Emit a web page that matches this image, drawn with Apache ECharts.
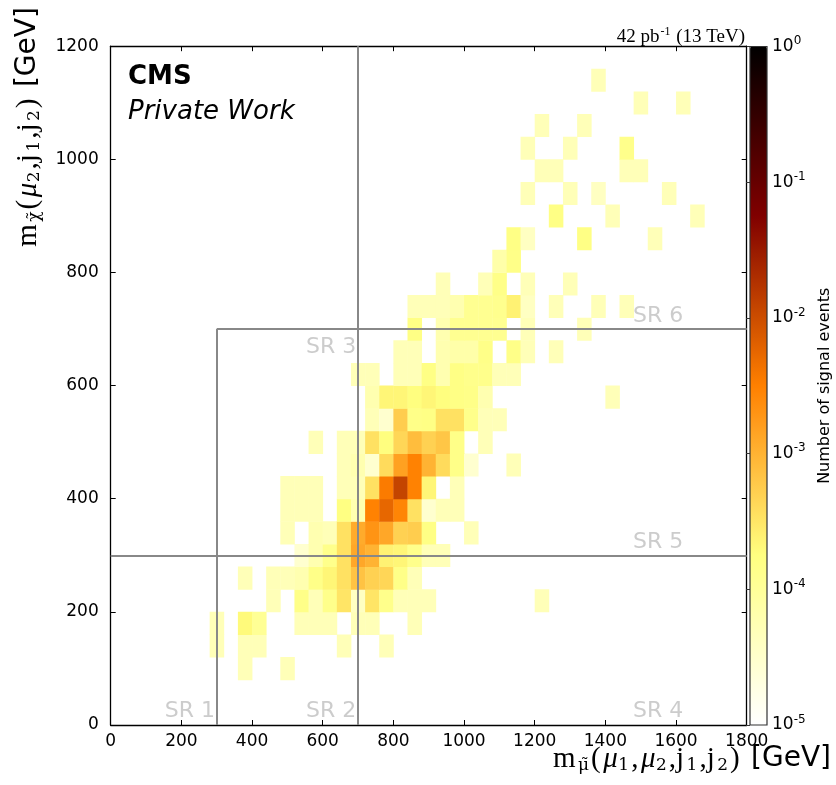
<!DOCTYPE html>
<html>
<head>
<meta charset="utf-8">
<script src="https://cdn.jsdelivr.net/npm/echarts@6/dist/echarts.min.js"></script>
<style>html,body{margin:0;padding:0;background:#fff}#c{width:836px;height:785px}</style>
</head>
<body>
<div id="c"></div>
<script>
// ---------------- DATA ----------------
const binWidthMu = 40;   // GeV, x bin width
const binWidthChi = 40;  // GeV, y bin width
// lower edge (GeV) of each occupied y-bin row
const chiLow = [80,120,160,200,240,280,320,360,400,440,480,520,560,600,640,680,720,760,800,840,880,920,960,1000,1040,1080,1120];
// lower edges (GeV) of occupied x-bins in each row
const muInRow = [
  [360,480],
  [280,360,400,640,760],
  [280,360,400,520,560,600,680,720,840],
  [440,520,560,600,640,680,720,760,800,840,880,1200],
  [360,440,480,520,560,600,640,680,720,760,800,840],
  [520,560,600,640,680,720,760,800,840,880,920],
  [480,560,600,640,680,720,760,800,840,880,1000],
  [480,520,560,640,680,720,760,800,840,880,920,960],
  [480,520,560,640,680,720,760,800,840,880,960],
  [640,680,720,760,800,840,880,920,960,1000,1120],
  [560,640,680,720,760,800,840,880,920,960,1040],
  [720,760,800,840,880,920,960,1000,1040,1080],
  [720,760,800,840,880,920,960,1000,1040,1400],
  [680,720,800,840,880,920,960,1000,1040,1080,1120],
  [800,840,920,960,1000,1040,1120,1160,1240],
  [840,920,960,1000,1040,1080,1160,1320],
  [840,880,920,960,1000,1040,1080,1120,1160,1240,1360,1440],
  [920,1040,1080,1160,1280],
  [1080,1120],
  [1120,1160,1320,1520],
  [1240,1400,1640],
  [1160,1280,1360,1560],
  [1200,1240,1440,1480],
  [1160,1280,1440],
  [1200,1320],
  [1480,1600],
  [1360]
];
// number of signal events in each occupied bin
const eventsInRow = [
  [5e-5,5e-5],
  [5e-5,5e-5,5e-5,5e-5,5e-5],
  [5e-5,2e-4,1.1e-4,5e-5,5e-5,5e-5,5e-5,5e-5,5e-5],
  [5e-5,1.5e-4,5e-5,1.4e-4,3.2e-4,4e-5,3.2e-4,1.4e-4,5e-5,5e-5,5e-5,5e-5],
  [5e-5,5e-5,5e-5,6e-5,1.5e-4,2.2e-4,3.5e-4,7e-4,5e-4,4.5e-4,1.5e-4,5e-5],
  [3e-5,6e-5,1.4e-4,3.5e-4,1.3e-3,1e-3,2.4e-4,2.2e-4,1.4e-4,5e-5,5e-5],
  [5e-5,6e-5,5e-5,3.5e-4,1.2e-3,2e-3,1.3e-3,5e-4,5.5e-4,1.6e-4,5e-5],
  [5e-5,5e-5,5e-5,1.7e-4,6e-5,3e-3,5.5e-3,2.8e-3,3.5e-4,3e-5,5e-5,5e-5],
  [5e-5,5e-5,5e-5,5e-5,5e-5,3.5e-4,3.5e-3,1.2e-2,3e-3,2.2e-4,5e-5],
  [5e-5,6e-5,3e-5,4e-4,1.5e-3,3e-3,1e-3,4e-4,1.5e-4,3e-5,5e-5],
  [5e-5,5e-5,5e-5,3.5e-4,1.8e-4,4.5e-4,8e-4,5e-4,6.5e-4,1.5e-4,5e-5],
  [5e-5,3e-5,5.5e-4,1.5e-4,1.6e-4,3.5e-4,3.5e-4,1.4e-4,5e-5,5e-5],
  [6e-5,2.2e-4,2.2e-4,1.8e-4,2.2e-4,1.8e-4,1.6e-4,1.5e-4,6e-5,5e-5],
  [5e-5,5e-5,5e-5,5e-5,1.6e-4,6e-5,1.6e-4,1.4e-4,1.4e-4,5e-5,5e-5],
  [5e-5,5e-5,6e-5,7e-5,7e-5,1.5e-4,1.5e-4,5e-5,5e-5],
  [1.6e-4,6e-5,1.2e-4,1.2e-4,1.2e-4,1.2e-4,5e-5,5e-5],
  [5e-5,5e-5,5e-5,6e-5,1.2e-4,1.2e-4,1.3e-4,2.4e-4,4e-5,5e-5,5e-5,5e-5],
  [5e-5,5e-5,1.5e-4,5e-5,5e-5],
  [7e-5,1.5e-4],
  [1.6e-4,4e-5,1.6e-4,5e-5],
  [1.6e-4,5e-5,5e-5],
  [5e-5,5e-5,4e-5,5e-5],
  [5e-5,5e-5,5e-5,5e-5],
  [5e-5,5e-5,1.4e-4],
  [5e-5,5e-5],
  [5e-5,5e-5],
  [5e-5]
];
const xTickStep = 200, xMax = 1800;
const yTickStep = 200, yMax = 1200;
const colorExpMin = -5, colorExpMax = 0;
// signal-region boundaries (GeV)
const srBoundaries = [
  [[300,0],[300,700]],
  [[700,0],[700,1200]],
  [[0,300],[1800,300]],
  [[300,700],[1800,700]]
];
const srNames = ['SR 1','SR 2','SR 3','SR 4','SR 5','SR 6'];

// ---------------- CHART ----------------
const FONT = 'DejaVu Sans';
const cells = [];
chiLow.forEach((chi, r) => {
  muInRow[r].forEach((mu, k) => cells.push([mu, chi, Math.log10(eventsInRow[r][k])]));
});

// label anchors (data coords) and alignment
const srAnchor = [
  {v:[295,24], a:'right'}, {v:[695,24], a:'right'}, {v:[695,668], a:'right'},
  {v:[1478,24], a:'left'}, {v:[1478,323], a:'left'}, {v:[1478,722], a:'left'}
];

const plainNum = v => String(v);
const frameAxis = (pos, labels, extra) => Object.assign({
  type:'value', position:pos, gridIndex:0,
  axisLine:{show:true, onZero:false, lineStyle:{color:'#000', width:1.3}},
  axisTick:{show:true, inside:true, length:5, lineStyle:{color:'#000', width:1}},
  axisLabel:{show:labels, formatter:plainNum, fontFamily:FONT, fontSize:17, color:'#000', showMinLabel:true, showMaxLabel:true},
  splitLine:{show:false}
}, extra);

const serifRich = {
  m:{fontFamily:'Liberation Serif', fontSize:29, fill:'#000', color:'#000', padding:[0,2.5,0,0]},
  mu:{fontFamily:'Liberation Serif', fontStyle:'italic', fontSize:29, fill:'#000', color:'#000', padding:[0,0.5,0,0]},
  sub:{fontFamily:'DejaVu Serif', fontSize:17, fill:'#000', color:'#000', padding:[14,2,0,0]},
  g:{fontFamily:FONT, fontSize:28, fill:'#000', color:'#000'}
};

const option = {
  animation:false,
  backgroundColor:'#ffffff',
  grid:[
    {left:110.7, top:46.2, width:636, height:678.8, show:false},
    {left:750, top:46.5, width:17, height:678.5, show:true, borderColor:'#333', borderWidth:1.2, backgroundColor:'transparent', z:10}
  ],
  xAxis:[
    frameAxis('bottom', true, {min:0, max:xMax, interval:xTickStep, axisLabel:{show:true, formatter:plainNum, fontFamily:FONT, fontSize:17, color:'#000', margin:8, showMinLabel:true, showMaxLabel:true}}),
    frameAxis('top', false, {min:0, max:xMax, interval:xTickStep}),
    {gridIndex:1, type:'value', min:0, max:1, show:false}
  ],
  yAxis:[
    frameAxis('left', true, {min:0, max:yMax, interval:yTickStep, axisLabel:{show:true, formatter:plainNum, fontFamily:FONT, fontSize:17, color:'#000', margin:12, showMinLabel:true, showMaxLabel:true}}),
    frameAxis('right', false, {min:0, max:yMax, interval:yTickStep}),
    {gridIndex:1, type:'value', min:colorExpMin, max:colorExpMax, interval:1, position:'right',
     axisLine:{show:false}, splitLine:{show:false},
     axisTick:{show:true, inside:true, length:4, lineStyle:{color:'#333'}},
     axisLabel:{margin:5, formatter:v => '{b|10}{s|' + v + '}',
       rich:{b:{fontFamily:FONT, fontSize:17, color:'#000'}, s:{fontFamily:FONT, fontSize:12, color:'#000', padding:[0,0,11,0]}}},
     name:'Number of signal events', nameLocation:'middle', nameRotate:90, nameGap:50,
     nameTextStyle:{fontFamily:FONT, fontSize:16, color:'#000'}}
  ],
  visualMap:{
    type:'continuous', min:colorExpMin, max:colorExpMax, dimension:2, seriesIndex:0,
    orient:'vertical', left:750, top:46.5, itemWidth:17, itemHeight:678.5, padding:0,
    calculable:false, hoverLink:false, show:true, showLabel:false,
    inRange:{color:['#ffffff','#ffff80','#ff8000','#800000','#000000']}
  },
  series:[
    {
      type:'custom', xAxisIndex:0, yAxisIndex:0, data:cells, clip:true,
      encode:{x:0, y:1},
      renderItem:(params, api) => {
        const mu = api.value(0), chi = api.value(1);
        const a = api.coord([mu, chi + binWidthChi]);
        const b = api.coord([mu + binWidthMu, chi]);
        return {type:'rect', shape:{x:a[0], y:a[1], width:b[0]-a[0]+0.4, height:b[1]-a[1]+0.4},
                style:{fill:api.visual('color'), stroke:null}};
      },
      silent:true, z:2
    },
    {
      type:'lines', coordinateSystem:'cartesian2d', xAxisIndex:0, yAxisIndex:0,
      data:srBoundaries.map(c => ({coords:c})),
      lineStyle:{color:'#888888', width:2, opacity:1, curveness:0},
      silent:true, z:3
    },
    {
      type:'scatter', xAxisIndex:0, yAxisIndex:0, symbolSize:0, silent:true, z:4,
      data:srNames.map((n, k) => ({name:n, value:srAnchor[k].v,
        label:{align:srAnchor[k].a}})),
      label:{show:true, formatter:'{b}', position:[0,0], verticalAlign:'middle',
             fontFamily:FONT, fontSize:22, color:'#bfbfbf'}
    }
  ],
  graphic:[
    {type:'text', x:128, y:77, style:{text:'CMS', font:'bold 26px "DejaVu Sans"', fill:'#000', align:'left', verticalAlign:'middle', textAlign:'left', textVerticalAlign:'middle'}},
    {type:'text', x:128, y:112, style:{text:'Private Work', font:'italic 26px "DejaVu Sans"', fill:'#000', align:'left', verticalAlign:'middle', textAlign:'left', textVerticalAlign:'middle'}},
    {type:'text', x:745, y:37, style:{
      text:'{t|42 pb}{s|-1}{t| (13 TeV)}', align:'right', verticalAlign:'middle', textAlign:'right', textVerticalAlign:'middle',
      rich:{t:{fontFamily:'Liberation Serif', fontSize:19, fill:'#000'}, s:{fontFamily:'Liberation Serif', fontSize:12, fill:'#000', padding:[0,1,10,1]}}}},
    {type:'text', x:831, y:759, style:{
      text:'{m|m}{sub|\u03bc\u0303}{m|(}{mu|\u03bc}{sub|1}{m|,}{mu|\u03bc}{sub|2}{m|,j}{sub|1}{m|,j}{sub|2}{m|)}{g| [GeV]}',
      align:'right', verticalAlign:'middle', textAlign:'right', textVerticalAlign:'middle', rich:serifRich}},
    {type:'text', x:28, y:127, rotation:Math.PI/2, style:{
      text:'{m|m}{sub|\u03c7\u0303}{m|(}{mu|\u03bc}{sub|2}{m|,j}{sub|1}{m|,j}{sub|2}{m|)}{g| [GeV]}',
      align:'center', verticalAlign:'middle', textAlign:'center', textVerticalAlign:'middle', rich:serifRich}}
  ]
};

const chart = echarts.init(document.getElementById('c'), null, {renderer:'canvas', width:836, height:785});
chart.setOption(option);
</script>
</body>
</html>
